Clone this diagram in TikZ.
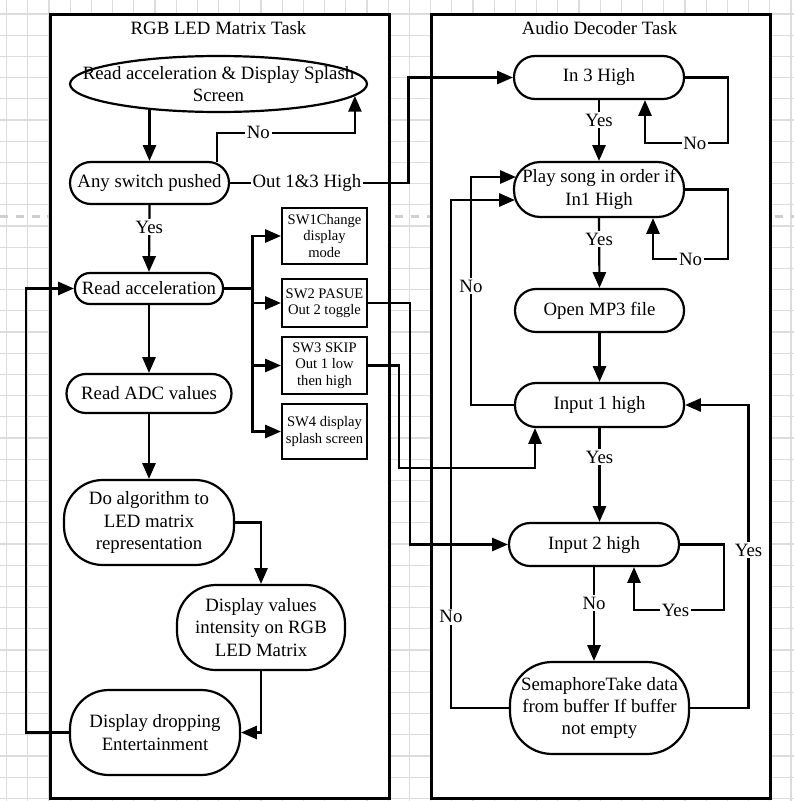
\documentclass[tikz,border=0pt]{standalone}
\usepackage{fontspec}
\setmainfont{Liberation Serif}
\usetikzlibrary{arrows.meta,calc,positioning,shapes.geometric}
\definecolor{GridGrey}{HTML}{DCDCDC}
\definecolor{BreakGrey}{HTML}{CFCFCF}

\tikzset{
  task/.style={draw,line width=1.7pt,fill=white,inner sep=0pt},
  term/.style={draw,line width=1.25pt,fill=white,rounded corners=#1,align=center,inner sep=0pt},
  swbox/.style={draw,line width=1.25pt,fill=white,align=center,inner sep=0pt,minimum width=1.7cm,font=\fontsize{8.3}{9.4}\selectfont},
  lbl/.style={fill=white,inner sep=1pt},
  conn/.style={line width=1.25pt},
  flow/.style={line width=1.25pt,->},
  gridline/.style={GridGrey,line width=0.6pt},
  pagebreak/.style={BreakGrey,line width=1.3pt,dash pattern=on 4.5pt off 4.5pt}
}

\begin{document}
\begin{tikzpicture}[x=0.02cm,y=-0.02cm,font=\fontsize{10.7}{12.8}\selectfont,>={Triangle[length=9pt,width=7.5pt]}]
  \useasboundingbox (0,0) rectangle (794,801);
  % background grid
  \foreach \i in {0,...,37} \draw[gridline] ({6.6+21.2*\i},0) -- ++(0,801);
  \foreach \i in {0,...,37} \draw[gridline] (0,{14+21.2*\i}) -- ++(794,0);
  \draw[pagebreak] (0,216.5) -- (794,216.5);

  % task frames
  \node[task,anchor=north west,minimum width=6.78cm,minimum height=15.68cm] (ledtask) at (49,13) {};
  \node[task,anchor=north west,minimum width=6.78cm,minimum height=15.68cm] (audiotask) at (430,13) {};
  \node (ledtitle) at (218.5,28) {RGB LED Matrix Task};
  \node (audiotitle) at (599.5,28) {Audio Decoder Task};

  % RGB LED matrix task
  \node[draw,ellipse,line width=1.25pt,fill=white,minimum width=5.94cm,minimum height=1.12cm,inner sep=0pt,
        label={[align=center]center:Read acceleration \& Display Splash\\Screen}] (splash) at (218.5,84) {};
  \node[term=11.9pt,minimum width=3.18cm,minimum height=0.84cm] (anysw) at (149.5,183) {Any switch pushed};
  \node[term=8.5pt,minimum width=2.96cm,minimum height=0.62cm] (readacc) at (149,288.5) {Read acceleration};
  \node[term=11pt,minimum width=3.30cm,minimum height=0.78cm] (readadc) at (149,393.5) {Read ADC values};
  \node[term=22pt,minimum width=3.40cm,minimum height=1.70cm] (algo) at (149,522.5) {Do algorithm to\\LED matrix\\representation};
  \node[term=22pt,minimum width=3.36cm,minimum height=1.70cm] (dispval) at (261,627.5) {Display values\\intensity on RGB\\LED Matrix};
  \node[term=22pt,minimum width=3.40cm,minimum height=1.70cm] (dispdrop) at (155,732.5) {Display dropping\\Entertainment};

  \node[swbox,minimum height=1.12cm] (sw1) at (324.5,236) {SW1Change\\display\\mode};
  \node[swbox,minimum height=0.96cm] (sw2) at (324.5,303) {SW2 PASUE\\Out 2 toggle};
  \node[swbox,minimum height=1.14cm] (sw3) at (324.5,365.5) {SW3 SKIP\\Out 1 low\\then high};
  \node[swbox,minimum height=1.10cm] (sw4) at (324.5,431.5) {SW4 display\\splash screen};

  % Audio decoder task
  \node[term=12pt,minimum width=3.40cm,minimum height=0.86cm] (in3) at (599,77.5) {In 3 High};
  \node[term=15pt,minimum width=3.40cm,minimum height=1.10cm] (play) at (599,189.5) {Play song in order if\\In1 High};
  \node[term=12pt,minimum width=3.38cm,minimum height=0.86cm] (openmp3) at (599.5,310.5) {Open MP3 file};
  \node[term=12pt,minimum width=3.38cm,minimum height=0.88cm] (in1) at (599.5,405) {Input 1 high};
  \node[term=12pt,minimum width=3.40cm,minimum height=0.86cm] (in2) at (594,544.5) {Input 2 high};
  \node[term=24pt,minimum width=3.58cm,minimum height=1.84cm] (sema) at (599.5,708) {SemaphoreTake data\\from buffer If buffer\\not empty};

  % left connectors
  \draw[flow] (anysw.north |- splash.-160) -- (anysw.north);
  \draw[flow] ([shift={(67.5,1)}]anysw.north) -- ++(0,-29) -| node[lbl,pos=.15]{No} (splash.-5);
  \draw[flow] (anysw.east) -- node[lbl,pos=.43]{Out 1\&3 High} ++(178.5,0) |- (in3.west);
  \draw[flow] (anysw.south) -- node[lbl,pos=.33]{Yes} (readacc.north);
  \draw[conn] (readacc.east) -- ++(28.5,0) coordinate (fork);
  \foreach \sw in {sw1,sw2,sw3,sw4}
    \draw[flow] (fork) |- (\sw.west);
  \draw[flow] (readacc.south) -- (readadc.north);
  \draw[flow] (readadc.south) -- (algo.north);
  \draw[flow] (algo.east) -| (dispval.north);
  \draw[flow] (dispval.south) |- (dispdrop.east);
  \draw[flow] (dispdrop.west) -- ++(-43,0) |- (readacc.west);
  \draw[flow] (sw2.east) -- ++(42,0) |- (in2.west);
  \draw[flow] (sw3.east) -- ++(31,0) |- ([shift={(-64.5,40)}]in1.south) -- ([shift={(-64.5,0)}]in1.south);

  % right connectors
  \draw[flow] (in3.south) -- node[lbl,pos=.33]{Yes} (play.north);
  \draw[flow] (in3.east) -- ++(43,0) |- node[lbl,pos=.7]{No} ([shift={(46,43)}]in3.south) -- ([shift={(46,0)}]in3.south);
  \draw[flow] (play.south) -- node[lbl,pos=.3]{Yes} (openmp3.north);
  \draw[flow] (play.east) -- ++(43,0) |- node[lbl,pos=.75]{No} ([shift={(54,41)}]play.south) -- ([shift={(54,0)}]play.south);
  \draw[flow] (openmp3.south) -- (in1.north);
  \draw[flow] (in1.west) -- ++(-43,0) |- node[lbl,pos=.26]{No} ([shift={(3,-12.5)}]play.west);
  \draw[flow] (in1.south) -- node[lbl,pos=.31]{Yes} (in1.south |- in2.north);
  \draw[flow] (in2.east) -- ++(44,0) |- node[lbl,pos=.77]{Yes} ([shift={(40,43)}]in2.south) -- ([shift={(40,0)}]in2.south);
  \draw[flow] (in2.south) -- node[lbl,pos=.385]{No} (in2.south |- sema.north);
  \draw[flow] (sema.west) -- ++(-58,0) |- node[lbl,pos=.09]{No} ([shift={(2,10.5)}]play.west);
  \draw[flow] (sema.east) -- ++(58.5,0) |- node[lbl,pos=.26]{Yes} (in1.east);
\end{tikzpicture}
\end{document}
